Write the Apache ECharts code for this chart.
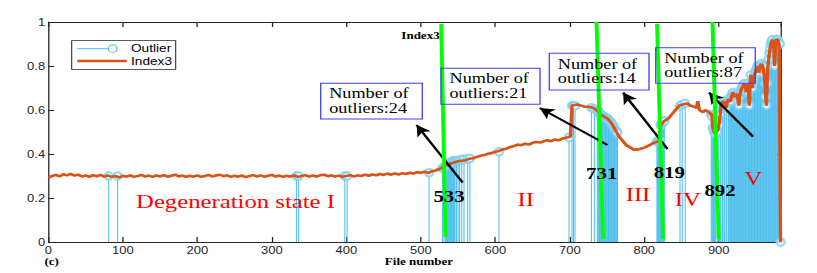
<!DOCTYPE html>
<html><head><meta charset="utf-8">
<script src="https://cdn.jsdelivr.net/npm/echarts@6.0.0/dist/echarts.min.js"></script>
<style>
html,body{margin:0;padding:0;background:#fff;overflow:hidden;width:817px;height:273px;}
#chart{width:628px;height:273px;transform:scaleX(1.30096);transform-origin:0 0;}
</style></head><body><div id="chart"></div>
<script>
// ---------- DATA ----------
const xTickValues = [0,100,200,300,400,500,600,700,800,900];
const yTickValues = [0,0.2,0.4,0.6,0.8,1];

// Index3 curve, file number / value pairs (stages I-IV)
const index3Early = [
 [0,0.293],[5,0.300],[10,0.305],[15,0.298],[20,0.308],[25,0.303],[30,0.310],[35,0.302],[40,0.306],[45,0.298],
 [50,0.303],[55,0.296],[60,0.304],[65,0.299],[70,0.305],[75,0.297],[80,0.302],[85,0.296],[90,0.300],[95,0.294],
 [100,0.301],[105,0.297],[110,0.303],[115,0.296],[120,0.300],[125,0.305],[130,0.297],[135,0.302],[140,0.296],[145,0.303],
 [150,0.298],[155,0.304],[160,0.297],[165,0.301],[170,0.306],[175,0.298],[180,0.302],[185,0.296],[190,0.301],[195,0.297],
 [200,0.303],[205,0.296],[210,0.300],[215,0.305],[220,0.298],[225,0.302],[230,0.306],[235,0.299],[240,0.303],[245,0.296],
 [250,0.301],[255,0.297],[260,0.302],[265,0.295],[270,0.300],[275,0.304],[280,0.298],[285,0.303],[290,0.297],[295,0.301],
 [300,0.305],[305,0.298],[310,0.302],[315,0.296],[320,0.301],[325,0.297],[330,0.303],[335,0.296],[340,0.300],[345,0.304],
 [350,0.297],[355,0.302],[360,0.298],[365,0.303],[370,0.306],[375,0.299],[380,0.303],[385,0.297],[390,0.302],[395,0.296],
 [400,0.300],[405,0.304],[410,0.298],[415,0.303],[420,0.300],[425,0.306],[430,0.301],[435,0.307],[440,0.303],[445,0.309],
 [450,0.305],[455,0.311],[460,0.306],[465,0.312],[470,0.307],[475,0.313],[480,0.309],[485,0.315],[490,0.311],[495,0.318],
 [500,0.314],[505,0.320],[510,0.313],[515,0.322],[520,0.325],[525,0.332],[530,0.340],[535,0.350],[540,0.357],[545,0.362],
 [550,0.367],[555,0.370],[560,0.372],[565,0.378],[570,0.381],[575,0.386],[580,0.392],[585,0.395],[590,0.401],[595,0.404],
 [600,0.410],[605,0.414],[610,0.421],[615,0.424],[620,0.432],[625,0.436],[630,0.443],[635,0.440],[640,0.447],[645,0.443],
 [650,0.451],[655,0.455],[660,0.452],[665,0.458],[670,0.462],[675,0.458],[680,0.466],[685,0.462],[690,0.470],[695,0.474],
 [699,0.477],[701,0.48],[703,0.62],[710,0.625],[715,0.62],[720,0.615],[725,0.615],[731,0.61],[736,0.60],[741,0.58],
 [746,0.57],[751,0.56],[756,0.54],[761,0.51],[766,0.48],[771,0.46],[776,0.44],[781,0.43],[786,0.42],[791,0.42],
 [796,0.425],[801,0.43],[807,0.44],[812,0.45],[817,0.455],[820,0.46],[822,0.53],[827,0.55],[832,0.56],[837,0.58],
 [842,0.60],[847,0.62],[852,0.625],[857,0.63],[862,0.62],[867,0.615],[870,0.61],[872,0.64],[874,0.60],[879,0.59],
 [882,0.60],[887,0.59]
];
// Index3 curve, stage V: one value per file, files 890 .. 983
const index3VStart = 890;
const index3V = [
 0.58,0.57,0.52,0.51,0.50,0.50,0.49,0.50,0.50,0.51,
 0.53,0.55,0.58,0.62,0.63,0.63,0.64,0.64,0.63,0.62,
 0.61,0.63,0.64,0.65,0.64,0.64,0.64,0.66,0.67,0.68,
 0.67,0.66,0.66,0.67,0.67,0.67,0.64,0.62,0.66,0.68,
 0.69,0.70,0.70,0.71,0.72,0.72,0.70,0.68,0.70,0.72,
 0.68,0.62,0.70,0.76,0.73,0.70,0.72,0.74,0.76,0.77,
 0.78,0.79,0.80,0.78,0.77,0.79,0.80,0.81,0.81,0.80,
 0.80,0.76,0.72,0.66,0.62,0.72,0.80,0.83,0.86,0.88,
 0.90,0.91,0.92,0.90,0.88,0.80,0.88,0.92,0.92,0.92,
 0.91,0.90,0.90,0.0
];
// Outliers (stem plot), stages I-IV: file / value
const outlierEarly = [
 [81,0.30],[93,0.30],[333,0.30],[336,0.30],[398,0.30],[401,0.30],[511,0.315],
 [529,0.335],[531,0.34],[533,0.345],[534,0.35],[535,0.35],[536,0.355],[537,0.355],[538,0.36],[539,0.36],[540,0.36],
 [541,0.365],[542,0.365],[543,0.365],[544,0.37],[545,0.37],[546,0.37],[548,0.37],[550,0.37],[552,0.372],[555,0.375],
 [558,0.375],[563,0.378],[566,0.38],[605,0.41],
 [699,0.475],[703,0.62],[705,0.62],[707,0.62],[729,0.61],[733,0.605],
 [737,0.60],[738,0.595],[739,0.59],[740,0.585],[741,0.58],[742,0.578],[743,0.575],[744,0.572],[745,0.57],[746,0.57],
 [747,0.568],[748,0.565],[749,0.562],[750,0.56],[751,0.56],[752,0.555],[753,0.55],[754,0.548],[755,0.545],[756,0.54],
 [757,0.535],[758,0.53],[759,0.52],[760,0.515],[761,0.51],[762,0.505],[763,0.50],[764,0.495],
 [817,0.455],[818,0.46],[819,0.46],[820,0.46],[821,0.46],[822,0.53],[823,0.535],[824,0.54],[825,0.545],[826,0.55],[827,0.55],
 [848,0.62],[851,0.625],[855,0.63]
];
// Outlier files in stage V (values are the Index3 values of those files)
const outlierFilesV = [
 890,891,892,893,894,895,896,898,900,902,903,905,907,908,910,911,913,914,915,916,917,918,919,920,
 921,922,923,924,925,926,927,928,929,930,931,932,933,934,935,936,937,938,939,940,941,942,943,944,
 945,946,947,948,949,950,951,952,953,954,955,956,957,958,959,960,961,962,963,964,965,966,967,968,
 969,970,971,972,973,974,975,976,977,978,979,980,981,982,983
];
// Stage boundary lines (green), start / end points in data space
const boundaryLines = [
 [[527.4,0.991],[533.3,0.023]],
 [[735.9,1.0],[744.8,0.014]],
 [[817.2,0.991],[825.3,0.014]],
 [[891.6,1.0],[900.0,0.014]]
];
// Annotation arrows: tail -> head in data space
const arrows = [
 [[556.1,0.270],[494.4,0.532]],
 [[750.7,0.441],[659.8,0.609]],
 [[831.2,0.423],[771.6,0.679]],
 [[946.1,0.479],[887.0,0.679]]
];
const boxTexts = ['Number of\noutliers:24','Number of\noutliers:21','Number of\noutliers:14','Number of\noutliers:87'];
const boundaryLabels = ['533','731','819','892'];
const stageLabels = ['Degeneration state I','II','III','IV','V'];

// ---------- BUILD ----------
const index3Data = index3Early.concat(index3V.map((v,i)=>[index3VStart+i, v]));
const outlierData = outlierEarly.concat(outlierFilesV.map(f=>[f, index3V[f-index3VStart]]));

const AX = '#262626';
const SX = 1.30096; // horizontal stretch of the reference figure
const px = x => x / SX;

const chart = echarts.init(document.getElementById('chart'), null, {renderer:'svg'});

const baseX = {type:'value', min:0, max:984, interval:100, splitLine:{show:false},
  axisLine:{show:true, onZero:false, lineStyle:{color:AX, width:1}},
  axisTick:{show:true, inside:true, length:5, lineStyle:{color:AX}}};
const baseY = {type:'value', min:0, max:1, interval:0.2, splitLine:{show:false},
  axisLine:{show:true, onZero:false, lineStyle:{color:AX, width:1}},
  axisTick:{show:true, inside:true, length:4.4, lineStyle:{color:AX}}};

const series = [
  {type:'custom', name:'OutlierStems', xAxisIndex:0, yAxisIndex:0, data: outlierData, z:2, silent:true,
   renderItem:(params, api)=>{
     const x = api.value(0), y = api.value(1);
     const p0 = api.coord([x,0]), p1 = api.coord([x,y]);
     return {type:'line', shape:{x1:p0[0],y1:p0[1],x2:p1[0],y2:p1[1]}, style:{stroke:'#4DBEEE', lineWidth:0.8}};
   }},
  {type:'scatter', name:'Outlier', data: outlierData, symbol:'emptyCircle', symbolSize:[6.3,7.5], z:3, silent:true,
   itemStyle:{color:'#7FCFF0', borderColor:'#7FCFF0', borderWidth:0.8}},
  {type:'line', name:'Index3', data: index3Data, showSymbol:false, symbol:'none', z:4, silent:true,
   lineStyle:{color:'#D95319', width:2.6}},
];
boundaryLines.forEach(seg=>{
  series.push({type:'line', data: seg, showSymbol:false, symbol:'none', z:5, silent:true,
    lineStyle:{color:'#00FF00', width:3}});
});
series.push({type:'line', data:[], z:6, silent:true,
  markLine:{silent:true, symbol:['none','arrow'], symbolSize:[9,11], animation:false,
    label:{show:false}, lineStyle:{color:'#000', width:2, type:'solid'},
    emphasis:{disabled:true},
    data: arrows.map(a=>[{coord:a[0]},{coord:a[1]}])}});

const serif = "'Liberation Serif','Times New Roman',serif";
const sans = "'Liberation Sans',Arial,sans-serif";
function txt(x,y,text,opts){
  return {type:'text', x:x, y:y, z:100, silent:true, style:Object.assign({text:text, align:'center', verticalAlign:'middle',
    textAlign:'center', textVerticalAlign:'middle', fill:'#000', fontFamily:serif, fontSize:14}, opts||{})};
}
const graphics = [];
// legend
graphics.push({type:'rect', z:100, silent:true, shape:{x:px(71.7), y:40.7, width:px(104), height:28.6}, style:{fill:'#fff', stroke:AX, lineWidth:0.8}});
graphics.push({type:'line', z:101, silent:true, shape:{x1:px(77.3), y1:48.7, x2:px(108.3), y2:48.7}, style:{stroke:'#4DBEEE', lineWidth:1}});
graphics.push({type:'ellipse', z:101, silent:true, shape:{cx:px(112.7), cy:48.7, rx:px(4.4), ry:3.6}, style:{fill:'none', stroke:'#4DBEEE', lineWidth:1}});
graphics.push({type:'line', z:101, silent:true, shape:{x1:px(77.3), y1:61, x2:px(126.7), y2:61}, style:{stroke:'#D95319', lineWidth:2.5}});
graphics.push(txt(px(131),48.7,'Outlier',{align:'left', textAlign:'left', fontFamily:sans, fontSize:10.5}));
graphics.push(txt(px(131),61.5,'Index3',{align:'left', textAlign:'left', fontFamily:sans, fontSize:10.5}));
// annotation boxes
const boxes = [[320.7,83.3,101.6,35.7],[441,68.3,99,36],[549.3,53.3,99.7,36.7],[655.7,47.7,99.6,35.6]];
boxes.forEach((b,i)=>{
  graphics.push({type:'rect', z:100, silent:true, shape:{x:px(b[0]), y:b[1], width:px(b[2]), height:b[3]}, style:{fill:'none', stroke:'#4040FF', lineWidth:1}});
  graphics.push(txt(px(b[0]+8.5), b[1]+b[3]/2, boxTexts[i], {align:'left', textAlign:'left', fontSize:14, lineHeight:14.5}));
});
// boundary file labels
const blPos = [[449,196.7],[601.7,173.3],[669.3,172.3],[720,190]];
boundaryLabels.forEach((t,i)=>graphics.push(txt(px(blPos[i][0]), blPos[i][1], t, {fontSize:16, fontWeight:'bold'})));
// stage labels
const stPos = [[235.5,202],[525.7,200],[638,195],[687.7,200],[753.3,178.3]];
stageLabels.forEach((t,i)=>graphics.push(txt(px(stPos[i][0]), stPos[i][1], t, {fontSize:19, fill:'#FF0000'})));
// small texts
graphics.push(txt(px(420.5),36,'Index3',{fontSize:10, fontWeight:'bold'}));
graphics.push(txt(px(51.7),262.3,'(c)',{fontSize:10, fontWeight:'bold'}));
graphics.push(txt(px(419),262.3,'File number',{fontSize:10, fontWeight:'bold'}));

chart.setOption({
  animation:false,
  backgroundColor:'#fff',
  grid:{left:px(48.4), right:628-px(781.3), top:22, bottom:31, containLabel:false},
  xAxis:[
    Object.assign({}, baseX, {position:'bottom',
      axisLabel:{show:true, margin:3.5, fontSize:10, fontFamily:sans, color:AX, showMaxLabel:false,
        formatter:v=> xTickValues.indexOf(v)>=0 ? String(v) : ''}}),
    Object.assign({}, baseX, {position:'top', axisLabel:{show:false}})
  ],
  yAxis:[
    Object.assign({}, baseY, {position:'left',
      axisLabel:{show:true, margin:2.5, fontSize:10, fontFamily:sans, color:AX,
        formatter:v=>{ const r=Math.round(v*10)/10; return yTickValues.indexOf(r)>=0 ? String(r) : ''; }}}),
    Object.assign({}, baseY, {position:'right', axisLabel:{show:false}})
  ],
  series: series,
  graphic: {elements: graphics}
});
</script></body></html>
